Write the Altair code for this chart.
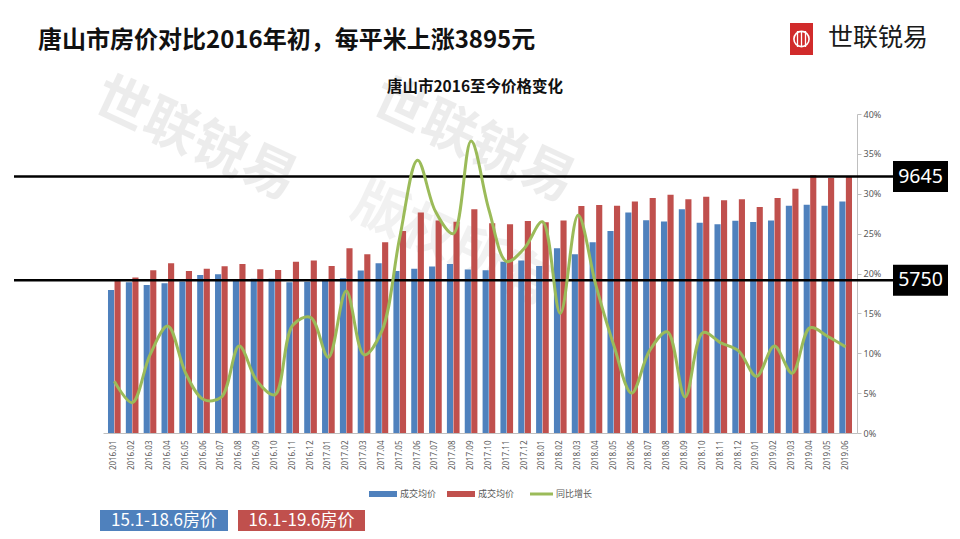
import altair as alt
import pandas as pd

months = ["2016.01", "2016.02", "2016.03", "2016.04", "2016.05", "2016.06", "2016.07", "2016.08",
          "2016.09", "2016.10", "2016.11", "2016.12", "2017.01", "2017.02", "2017.03", "2017.04",
          "2017.05", "2017.06", "2017.07", "2017.08", "2017.09", "2017.10", "2017.11", "2017.12",
          "2018.01", "2018.02", "2018.03", "2018.04", "2018.05", "2018.06", "2018.07", "2018.08",
          "2018.09", "2018.10", "2018.11", "2018.12", "2019.01", "2019.02", "2019.03", "2019.04",
          "2019.05", "2019.06"]

# 15.1-18.6 房价 (blue)
price_prev = [5380, 5670, 5570, 5630, 5700, 5945, 5970, 5730, 5800, 5800, 5670, 5690,
              5730, 5820, 6110, 6385, 6095, 6175, 6260, 6355, 6150, 6125, 6445, 6485,
              6285, 6950, 6720, 7175, 7600, 8290, 8000, 7960, 8415, 7910, 7850, 7985,
              7935, 7990, 8550, 8590, 8550, 8705]
# 16.1-19.6 房价 (red)
price_curr = [5750, 5850, 6120, 6385, 6095, 6180, 6270, 6360, 6160, 6135, 6445, 6485,
              6285, 6950, 6725, 7175, 7600, 8290, 7990, 7950, 8415, 7890, 7850, 7975,
              7925, 7990, 8540, 8575, 8550, 8705, 8840, 8965, 8790, 8890, 8755, 8790,
              8505, 8840, 9190, 9700, 9590, 9645]
# 同比增长 (%)
growth_pct = [6.5, 3.8, 9.8, 13.4, 7.5, 4.2, 4.5, 10.9, 6.5, 4.8, 13.5, 14.5,
              9.5, 17.8, 9.8, 12.8, 24.5, 34.2, 27.8, 25.0, 36.6, 28.0, 21.5, 23.2,
              26.5, 15.0, 27.3, 18.5, 11.0, 5.0, 10.3, 12.7, 4.5, 12.6, 11.3, 10.3,
              7.1, 10.9, 7.5, 13.2, 12.1, 10.8]

series_names = ["15.1-18.6房价", "16.1-19.6房价"]
ref_values = [9645, 5750]
ref_labels = ["9645", "5750"]

BLUE = "#4F81BD"
RED = "#C0504D"
GREEN = "#9BBB59"
CJK = "Noto Sans CJK SC"
NUM = "Noto Sans"

bars_df = pd.DataFrame({
    "month": months * 2,
    "series": [series_names[0]] * len(months) + [series_names[1]] * len(months),
    "value": price_prev + price_curr,
})
line_df = pd.DataFrame({"month": months, "growth": [g / 100 for g in growth_pct]})
ref_df = pd.DataFrame({"v": ref_values, "label": ref_labels})

left_scale = alt.Scale(domain=[0, 12000], nice=False, zero=True)
x_enc = alt.X("month:N", sort=months,
              scale=alt.Scale(paddingInner=0.29, paddingOuter=0.28),
              axis=alt.Axis(title=None, labelAngle=270, labelFontSize=8, labelFont=NUM,
                            labelColor="#595959", ticks=False, domainColor="#BFBFBF",
                            labelPadding=7, grid=False))

bars = alt.Chart(bars_df).mark_bar().encode(
    x=x_enc,
    xOffset=alt.XOffset("series:N", sort=series_names, scale=alt.Scale(paddingInner=0.06)),
    y=alt.Y("value:Q", scale=left_scale,
            axis=alt.Axis(title=None, values=list(range(0, 12001, 2000)), format="d",
                          orient="left", domain=False, ticks=False, grid=False,
                          labelPadding=6, labelFontSize=9, labelFont=NUM, labelColor="#595959")),
    color=alt.Color("series:N", scale=alt.Scale(domain=series_names, range=[BLUE, RED]), legend=None),
)

ref_rules = alt.Chart(ref_df).mark_rule(color="black", strokeWidth=2.5).encode(
    y=alt.Y("v:Q", scale=left_scale, axis=None),
    x=alt.value(-89), x2=alt.value(790),
)
box_path = "M-1,-0.5636L1,-0.5636L1,0.5636L-1,0.5636Z"
ref_boxes = alt.Chart(ref_df).mark_point(shape=box_path, filled=True, size=3025,
                                         color="black", opacity=1).encode(
    y=alt.Y("v:Q", scale=left_scale, axis=None),
    x=alt.value(817.5),
)
ref_text = alt.Chart(ref_df).mark_text(color="white", fontSize=19.5, font=NUM,
                                       baseline="middle", align="center").encode(
    y=alt.Y("v:Q", scale=left_scale, axis=None),
    x=alt.value(817.5),
    text="label:N",
)

left_group = alt.layer(bars, ref_rules, ref_boxes, ref_text)

line = alt.Chart(line_df).mark_line(color=GREEN, strokeWidth=3, interpolate="catmull-rom").encode(
    x=alt.X("month:N", sort=months),
    y=alt.Y("growth:Q", scale=alt.Scale(domain=[0, 0.4], nice=False),
            axis=alt.Axis(title=None, orient="right", format=".0%",
                          values=[0, 0.05, 0.1, 0.15, 0.2, 0.25, 0.3, 0.35, 0.4],
                          grid=False, domainColor="#BFBFBF", tickColor="#BFBFBF", tickSize=4,
                          labelPadding=2, labelFontSize=9, labelFont=NUM, labelColor="#595959")),
)

one = pd.DataFrame({"k": [0]})


def txt(s, x, y, size, color, weight="normal", align="left", angle=0, opacity=1.0, font=CJK):
    return alt.Chart(pd.DataFrame({"t": [s]})).mark_text(
        fontSize=size, color=color, fontWeight=weight, align=align, baseline="middle",
        angle=angle, opacity=opacity, font=font,
    ).encode(text="t:N", x=alt.value(x), y=alt.value(y))


def rect(x0, x1, y0, y1, color):
    return alt.Chart(one).mark_rect(color=color).encode(
        x=alt.value(x0), x2=alt.value(x1), y=alt.value(y0), y2=alt.value(y1))


def hline(x0, x1, y, color, width):
    return alt.Chart(one).mark_rule(color=color, strokeWidth=width).encode(
        x=alt.value(x0), x2=alt.value(x1), y=alt.value(y))


watermarks = [
    txt("世联锐易", 92, 26, 54, "#000000", weight="bold", align="center", angle=25, opacity=0.07),
    txt("世联锐易", 370, 28, 54, "#000000", weight="bold", align="center", angle=25, opacity=0.07),
    txt("版权所有", 350, 132, 54, "#000000", weight="bold", align="center", angle=25, opacity=0.05),
]

annotations = [
    txt("唐山市房价对比2016年初，每平米上涨3895元", -65, -73, 24, "#111111", weight="bold"),
    txt("唐山市2016至今价格变化", 372, -27, 15.5, "#111111", weight="bold", align="center"),
    # logo
    rect(687, 710, -91, -59, "#D12B2B"),
    alt.Chart(one).mark_point(shape="circle", filled=False, size=230, color="white",
                              strokeWidth=1.6, opacity=1).encode(x=alt.value(698.5), y=alt.value(-75)),
    alt.Chart(pd.DataFrame({"x": [694.5, 698.5, 702.5]})).mark_rule(color="white", strokeWidth=1.3).encode(
        x=alt.X("x:Q", scale=None), y=alt.value(-83), y2=alt.value(-67)),
    txt("世联锐易", 725, -76, 25, "#1A1A1A"),
    # legend
    rect(266, 294, 377, 383, BLUE),
    txt("成交均价", 297, 380, 9, "#595959"),
    rect(344, 372, 377, 383, RED),
    txt("成交均价", 375, 380, 9, "#595959"),
    hline(427, 450, 380, GREEN, 3),
    txt("同比增长", 453, 380, 9, "#595959"),
    # bottom tags
    rect(-3, 125, 396, 417, BLUE),
    txt("15.1-18.6房价", 61, 407, 17, "white", align="center"),
    rect(135, 262, 396, 417, RED),
    txt("16.1-19.6房价", 198.5, 407, 17, "white", align="center"),
]

chart = alt.layer(*watermarks, left_group, line, *annotations).resolve_scale(
    y="independent"
).properties(
    width=754, height=319,
    padding={"left": 95, "top": 106, "right": 95, "bottom": 98},
    autosize=alt.AutoSizeParams(type="none"),
    background="white",
).configure_view(stroke=None)

chart.save("out.html", embed_options={"renderer": "svg", "actions": False})
